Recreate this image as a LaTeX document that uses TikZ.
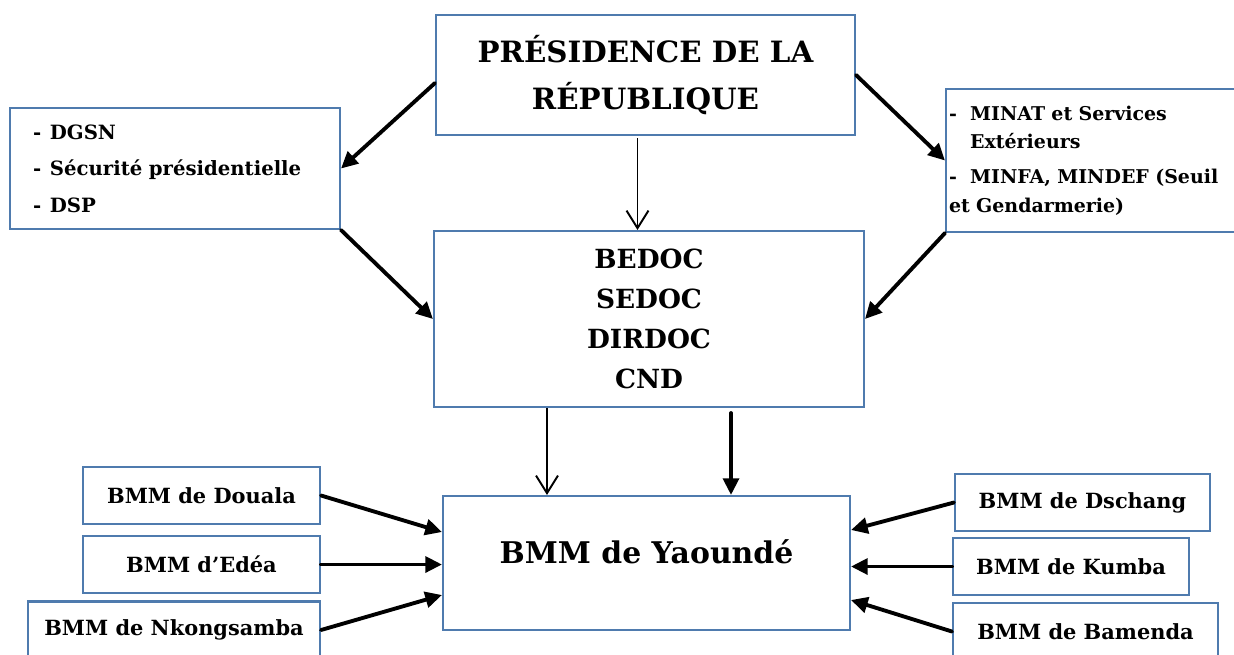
\documentclass[tikz,border=0pt]{standalone}
\usepackage{fontspec}
\setmainfont{DejaVu Serif}
\usetikzlibrary{arrows.meta}
\usetikzlibrary{calc}
\definecolor{cadre}{HTML}{4F7BAE}
\tikzstyle{every node}=[font=\bfseries]
\tikzstyle{bloc}=[draw=cadre,line width=1.2pt,rectangle,inner sep=0pt,align=center]
\tikzstyle{petitbloc}=[bloc,minimum height=1.14cm,font=\fontsize{11.9}{15}\bfseries]
\tikzstyle{fleche}=[line width=2.2pt,line cap=round,-{Triangle[length=9.5pt,width=9pt]}]
\tikzstyle{flechefine}=[line width=1.1pt,-{Straight Barb[length=10pt,width=12.5pt]}]

\begin{document}
\begin{tikzpicture}[x=0.02cm,y=-0.02cm]
  \useasboundingbox (0,0) rectangle (1234,654);
  \clip (0,0) rectangle (1234,654);
  % niveaux superieurs
  \node[bloc,minimum width=8.38cm,minimum height=2.4cm,font=\fontsize{16.7}{26.6}\bfseries] (pres) at (645.5,75) {PRÉSIDENCE DE LA\\RÉPUBLIQUE};
  \node[bloc,minimum width=6.6cm,minimum height=2.42cm,inner xsep=0.46cm,text width=5.68cm,align=left,font=\fontsize{11.2}{20.7}\bfseries] (dgsn) at (175,168.5)
    {\makebox[9.6pt][l]{-}DGSN\\\makebox[9.6pt][l]{-}Sécurité présidentielle\\\makebox[9.6pt][l]{-}DSP};
  \node[bloc,minimum width=6.08cm,minimum height=2.86cm,inner xsep=1pt,text width=5.96cm,align=left,font=\fontsize{10.8}{16.4}\bfseries] (minat) at (1098,160.5)
    {\makebox[12pt][l]{-}MINAT et Services\\\hspace*{12pt}Extérieurs\\[3.4pt]\makebox[12pt][l]{-}MINFA, MINDEF (Seuil\\et Gendarmerie)};
  \node[bloc,minimum width=8.6cm,minimum height=3.52cm,font=\fontsize{15}{22.7}\bfseries] (bedoc) at (649,319) {BEDOC\\SEDOC\\DIRDOC\\CND};
  \node[bloc,minimum width=8.14cm,minimum height=2.68cm,font=\fontsize{17}{20}\bfseries] (yde) at (646.5,563) {\raisebox{13pt}{BMM de Yaoundé}};
  % bureaux regionaux
  \node[petitbloc,minimum width=4.74cm] (douala) at (201.5,495.5) {BMM de Douala};
  \node[petitbloc,minimum width=4.74cm] (edea) at (201.5,564.5) {BMM d’Edéa};
  \node[petitbloc,minimum width=5.84cm] (nkong) at (174,630) {BMM de Nkongsamba};
  \node[petitbloc,minimum width=5.1cm] (dschang) at (1082.5,502.5) {BMM de Dschang};
  \node[petitbloc,minimum width=4.72cm] (kumba) at (1071,566.5) {BMM de Kumba};
  \node[petitbloc,minimum width=5.3cm] (bamenda) at (1085.5,631.5) {BMM de Bamenda};
  %
  \draw[fleche] ($(pres.west)+(0,8)$) -- (dgsn.east);
  \draw[fleche] (pres.east) -- (minat.west);
  \coordinate (p1) at ($(pres.south)+(-8,2)$);
  \draw[flechefine] (p1) -- (p1 |- bedoc.north);
  \draw[fleche] (dgsn.south east) -- (bedoc.west);
  \draw[fleche] (minat.south west) -- (bedoc.east);
  \coordinate (b1) at ($(bedoc.south)+(-102,0)$);
  \coordinate (b2) at ($(bedoc.south)+(82,5)$);
  \draw[flechefine] (b1) -- (b1 |- yde.north);
  \draw[fleche] (b2) -- (b2 |- yde.north);
  \draw[fleche] (douala.east) -- ($(yde.west)+(0,-31)$);
  \draw[fleche] (edea.east) -- (edea.east -| yde.west);
  \draw[fleche] (nkong.east) -- ($(yde.west)+(0,32)$);
  \draw[fleche] (dschang.west) -- ($(yde.east)+(0,-33)$);
  \draw[fleche] (kumba.west) -- (kumba.west -| yde.east);
  \draw[fleche] (bamenda.west) -- ($(yde.east)+(0,37)$);
\end{tikzpicture}
\end{document}
